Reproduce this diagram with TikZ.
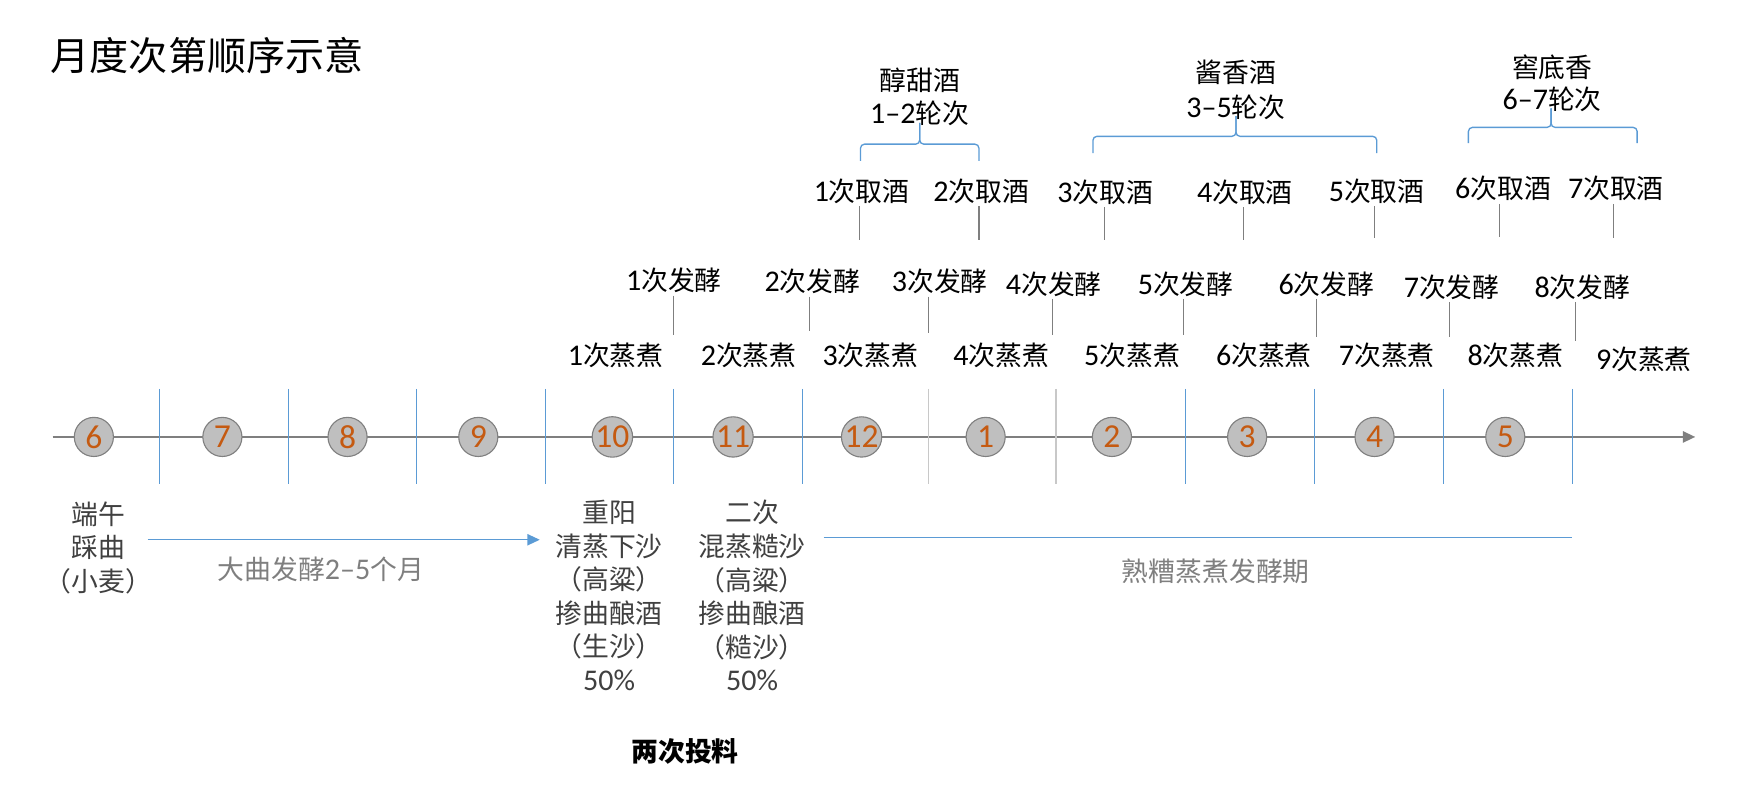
\documentclass[tikz,border=0pt]{standalone}
\usepackage{fontspec}
\setmainfont{Noto Sans CJK SC}
\newfontfamily\carl[Scale=1.12]{Carlito}
\newfontfamily\carlnum{Carlito}
\usetikzlibrary{arrows.meta}
\definecolor{numor}{HTML}{C55A11}
\definecolor{circfill}{HTML}{BFBFBF}
\definecolor{circdraw}{HTML}{808080}
\definecolor{axisgray}{HTML}{7F7F7F}
\definecolor{sepblue}{HTML}{5B9BD5}
\definecolor{sepgray}{HTML}{C8C8C8}
\definecolor{txtdark}{HTML}{404040}
\definecolor{txtgray}{HTML}{7F7F7F}
\newcommand\dg[1]{{\carl #1}}
\begin{document}
\begin{tikzpicture}[x=0.5pt,y=-0.5pt,
  lbl/.style={font=\fontsize{12}{15}\selectfont, inner sep=1pt, text=black},
  low/.style={font=\fontsize{12}{15}\selectfont, align=center, inner sep=0pt, text=txtdark},
  month/.style={circle, draw=circdraw, line width=0.5pt, fill=circfill, minimum size=17.5pt, inner sep=0pt, font=\carlnum\fontsize{15}{15}\selectfont, text=numor},
  conn/.style={draw=axisgray, line width=0.5pt},
  sepline/.style={draw=sepblue, line width=0.5pt},
  sepgrayline/.style={draw=sepgray, line width=0.6pt},
  bracepath/.style={draw=sepblue, line width=0.6pt, rounded corners=1.8pt},
  axisline/.style={draw=axisgray, line width=0.8pt, -{Triangle[length=5.5pt,width=5pt]}},
  bluearrow/.style={draw=sepblue, line width=0.6pt, -{Triangle[length=5.5pt,width=5pt]}},
  blueline/.style={draw=sepblue, line width=0.6pt}
]
\useasboundingbox (0,0) rectangle (1566,716);

% title
\node[font=\fontsize{17.5}{20}\selectfont, anchor=west, inner sep=0pt] (title) at (45,50) {月度次第顺序示意};

% axis
\coordinate (axs) at (47,391);
\coordinate (axe) at (1517,391);
\draw[axisline] (axs) -- (axe);

% separators
\foreach \x in {143,258,373,488,603,718,1061,1176,1292,1407}
  \draw[sepline] (\x,348) -- (\x,433);
\foreach \x in {831,945}
  \draw[sepgrayline] (\x,348) -- (\x,433);

% months
\foreach \m/\x in {6/84,7/199,8/311,9/428,10/548,11/656,12/771,1/882,2/995,3/1116,4/1230,5/1347}
  \node[month] (m\m) at (\x,391) {\m};

% steaming row
\foreach \i/\x/\y in {1/551/318,2/670/318,3/779/318,4/896/318,5/1013/318,6/1131/318,7/1241/318,8/1356/318,9/1471/322}
  \node[lbl] (z\i) at (\x,\y) {\dg{\i}次蒸煮};

% fermentation row
\foreach \i/\x/\y in {1/603/251,2/727/252,3/841/252,4/943/254,5/1061/254,6/1187/254,7/1299/257,8/1416/257}
  \node[lbl] (f\i) at (\x,\y) {\dg{\i}次发酵};
\foreach \i/\x/\yb in {1/603/300,2/724/296,3/831/298,4/942/300,5/1059/300,6/1178/302,7/1297/302,8/1410/305}
  \draw[conn] (f\i.south -| \x,0) -- (\x,\yb);

% liquor taking row
\foreach \i/\x/\y in {1/771/171,2/878/171,3/989/172,4/1114/172,5/1232/171,6/1345/169,7/1446/169}
  \node[lbl] (q\i) at (\x,\y) {\dg{\i}次取酒};
\foreach \i/\x/\yb in {1/769/215,2/876/215,3/988/215,4/1113/215,5/1230/213,6/1342/212,7/1444/213}
  \draw[conn] (q\i.south -| \x,0) -- (\x,\yb);

% braces and group labels
\draw[bracepath] (770,144) |- (823,129) -- (823,110);
\draw[bracepath] (876,144) |- (823,129) -- (823,110);
\node[lbl] (ga1) at (823,72) {醇甜酒};
\node[lbl] (ga2) at (823,101) {\dg{1–2}轮次};

\draw[bracepath] (978,137) |- (1106,122) -- (1106,104);
\draw[bracepath] (1232,137) |- (1106,122) -- (1106,104);
\node[lbl] (gb1) at (1106,65) {酱香酒};
\node[lbl] (gb2) at (1106,96) {\dg{3–5}轮次};

\draw[bracepath] (1314,128) |- (1388,114) -- (1388,97);
\draw[bracepath] (1465,128) |- (1388,114) -- (1388,97);
\node[lbl] (gc1) at (1389,60) {窖底香};
\node[lbl] (gc2) at (1389,89) {\dg{6–7}轮次};

% lower texts
\node[low] (duanwu) at (88,490) {端午\\踩曲\\（小麦）};
\node[low] (cy) at (545,533) {重阳\\清蒸下沙\\（高粱）\\掺曲酿酒\\（生沙）\\\dg{50\%}};
\node[low] (ec) at (673,533) {二次\\混蒸糙沙\\（高粱）\\掺曲酿酒\\（糙沙）\\\dg{50\%}};
\node[low, text=txtgray] (dq) at (287,509) {大曲发酵\dg{2–5}个月};
\node[low, text=txtgray] (sz) at (1088,511) {熟糟蒸煮发酵期};
\node[low, text=black, font=\bfseries\fontsize{12}{15}\selectfont] (tl) at (613,672) {两次投料};

\coordinate (qa) at (132,483);
\coordinate (qb) at (483,483);
\draw[bluearrow] (qa) -- (qb);
\coordinate (sa) at (737,481);
\coordinate (sb) at (1407,481);
\draw[blueline] (sa) -- (sb);
\end{tikzpicture}
\end{document}
